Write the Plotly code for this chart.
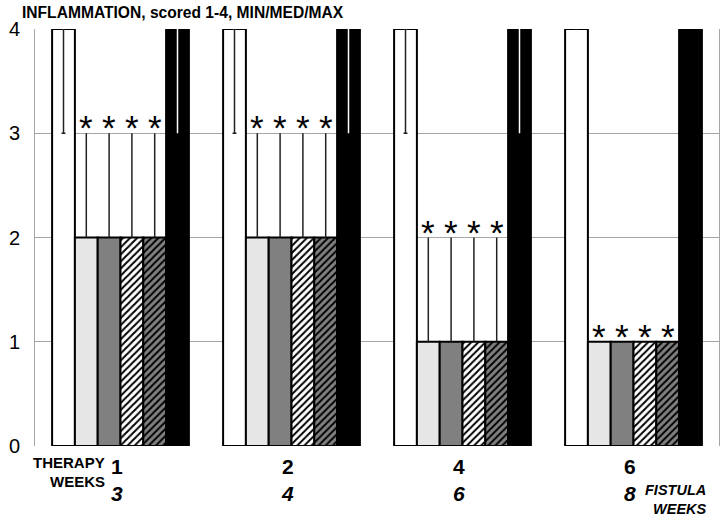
import plotly.graph_objects as go

# ---- data ----
therapy_weeks = ["1", "2", "4", "6"]
fistula_weeks = ["3", "4", "6", "8"]
groups = [0, 1, 2, 3]

# outer bars (white = first, black = last): median, min, max
white_med = [4, 4, 4, 4]
white_min = [3, 3, 3, 4]
white_max = [4, 4, 4, 4]
black_med = [4, 4, 4, 4]
black_min = [3, 3, 3, 4]
black_max = [4, 4, 4, 4]

# four treated groups: median and max
light_med = [2, 2, 1, 1]
light_max = [3, 3, 2, 1]
gray_med = [2, 2, 1, 1]
gray_max = [3, 3, 2, 1]
hatch_med = [2, 2, 1, 1]
hatch_max = [3, 3, 2, 1]
darkhatch_med = [2, 2, 1, 1]
darkhatch_max = [3, 3, 2, 1]

y_ticks = [0, 1, 2, 3, 4]
title_text = "INFLAMMATION, scored 1-4, MIN/MED/MAX"

FONT = "Liberation Sans, Arial, sans-serif"
bargap = 0.2
n_bars = 6
bw = (1 - bargap) / n_bars

L, R, T, B = 35, 7, 29, 78
W, H = 726, 524
PW, PH = W - L - R, H - T - B

def px(xpix):
    return (xpix - L) / PW

def py(ypix):
    return (H - B - ypix) / PH

fig = go.Figure()

def nz(v):
    return v if v != 0 else None

def add_bar(med, lo, hi, color, pattern=None, pbg=None, errcolor="#222", capw=0):
    plus = [nz(h - m) for h, m in zip(hi, med)]
    minus = [nz(m - l) for m, l in zip(med, lo)]
    marker = dict(color=color, line=dict(color="black", width=2))
    if pattern:
        marker["pattern"] = dict(shape=pattern, fgcolor="black", bgcolor=pbg,
                                 size=5, solidity=0.4, fillmode="replace")
    fig.add_trace(go.Bar(
        x=groups, y=med, marker=marker, showlegend=False,
        error_y=dict(type="data", symmetric=False, array=plus, arrayminus=minus,
                     color=errcolor, thickness=1.5, width=capw),
    ))

add_bar(white_med, white_min, white_max, "white", errcolor="#222", capw=2)
add_bar(light_med, light_med, light_max, "#e6e6e6")
add_bar(gray_med, gray_med, gray_max, "#808080")
add_bar(hatch_med, hatch_med, hatch_max, "white", pattern="/", pbg="white")
add_bar(darkhatch_med, darkhatch_med, darkhatch_max, "#808080", pattern="/", pbg="#808080")
add_bar(black_med, black_min, black_max, "black", errcolor="white", capw=0)

# asterisks above the four treated bars
for maxes, i in [(light_max, 1), (gray_max, 2), (hatch_max, 3), (darkhatch_max, 4)]:
    for g, m in zip(groups, maxes):
        fig.add_annotation(x=g - (1 - bargap) / 2 + bw * (i + 0.5), y=m,
                           xref="x", yref="y", text="*", showarrow=False,
                           yanchor="bottom", yshift=-16,
                           font=dict(family=FONT, size=35, color="black"))

# category labels
for g, tw, fw in zip(groups, therapy_weeks, fistula_weeks):
    fig.add_annotation(x=g, y=py(453), xref="x", yref="paper", xshift=-4,
                       text=f"<b>{tw}</b>", showarrow=False, yanchor="top",
                       font=dict(family=FONT, size=21, color="black"))
    fig.add_annotation(x=g, y=py(480), xref="x", yref="paper", xshift=-4,
                       text=f"<b><i>{fw}</i></b>", showarrow=False, yanchor="top",
                       font=dict(family=FONT, size=21, color="black"))

for txt, ytop in [("THERAPY", 452), ("WEEKS", 471)]:
    fig.add_annotation(x=px(107), y=py(ytop), xref="paper", yref="paper",
                       xanchor="right", yanchor="top", text=f"<b>{txt}</b>",
                       showarrow=False, font=dict(family=FONT, size=15, color="black"))

fig.add_annotation(x=px(709), y=py(480), xref="paper", yref="paper",
                   xanchor="right", yanchor="top", align="right",
                   text="<b><i>FISTULA<br>WEEKS</i></b>",
                   showarrow=False, font=dict(family=FONT, size=14.5, color="black"))

fig.add_annotation(x=px(20), y=py(2), xref="paper", yref="paper",
                   xanchor="left", yanchor="top", text=f"<b>{title_text}</b>",
                   showarrow=False, font=dict(family=FONT, size=15.6, color="black"))

fig.update_layout(
    width=W, height=H,
    margin=dict(l=L, r=R, t=T, b=B, autoexpand=False),
    paper_bgcolor="white", plot_bgcolor="white",
    barmode="group", bargap=bargap, bargroupgap=0,
    xaxis=dict(range=[-0.5, 3.5], showticklabels=False, showgrid=False,
               zeroline=False, showline=False, fixedrange=True),
    yaxis=dict(range=[0, 4], tickvals=y_ticks, showgrid=True, gridcolor="#a6a6a6",
               gridwidth=1, zeroline=False, showline=True, linecolor="#a6a6a6",
               linewidth=1, mirror=True, ticks="", ticklabelstandoff=10,
               tickfont=dict(family=FONT, size=20, color="black")),
)

fig.write_html("out.html", config={"displayModeBar": False},
               post_script="document.body.style.margin='0';")
